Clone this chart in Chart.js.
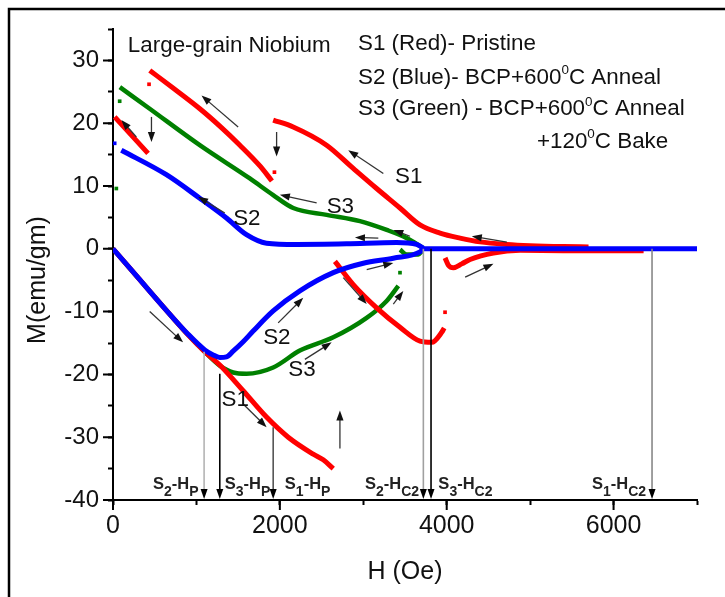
<!DOCTYPE html>
<html>
<head>
<meta charset="utf-8">
<script src="https://cdn.jsdelivr.net/npm/chart.js@4.4.1/dist/chart.umd.min.js"></script>
<style>
  body { margin: 0; background: #fff; }
  canvas { display: block; }
</style>
</head>
<body>
<canvas id="mh" width="725" height="597"></canvas>
<script>
// M(H) loops of large-grain niobium, field in Oe, moment in emu/gm

// S1 (red) - pristine
const s1VirginH = [0, 300, 600, 900, 1100, 1280, 1560, 1840, 2100, 2400, 2520, 2640];
const s1VirginM = [0, -4.6, -9.2, -13.7, -16.4, -18.5, -22.6, -26.8, -30.0, -32.7, -33.6, -35.0];
const s1DropH = [2660, 2880, 3160, 3440, 3680, 3820, 3940, 3970];
const s1DropM = [-2.0, -5.7, -9.4, -12.5, -14.7, -14.9, -13.3, -12.6];
const s1TailH = [3980, 4020, 4080, 4180, 4280, 4560, 4880, 5400, 6360];
const s1TailM = [-1.45, -2.6, -3.0, -2.4, -1.7, -0.66, -0.25, -0.3, -0.3];
const s1DownH = [1920, 2160, 2560, 2880, 3160, 3440, 3680, 3920, 4160, 4400, 4720, 5000, 5400, 5700];
const s1DownM = [20.5, 19.4, 16.5, 12.8, 9.6, 6.5, 3.8, 2.5, 1.7, 1.1, 0.7, 0.5, 0.35, 0.3];
const s1MidH = [441, 700, 1041, 1300, 1521, 1761, 1905];
const s1MidM = [28.4, 25.8, 22.3, 19.3, 16.5, 13.2, 10.8];
const s1LowH = [20, 220, 420];
const s1LowM = [21.0, 18.1, 15.2];
const s1DotH = [432, 1935, 3980];
const s1DotM = [26.2, 12.2, -10.1];

// S2 (blue) - BCP + 600C anneal
const s2VirginH = [0, 300, 600, 900, 1100, 1200, 1280, 1360, 1440, 1560, 1680, 1920, 2240, 2640, 3000, 3360, 3680, 3720, 4000, 5000, 6000, 7000];
const s2VirginM = [0, -4.6, -9.2, -13.6, -16.1, -16.9, -17.3, -17.2, -16.3, -14.8, -13.1, -9.9, -6.7, -3.8, -2.3, -1.5, -0.5, 0, 0, 0, 0, 0];
const s2DownH = [100, 640, 1040, 1360, 1600, 1840, 2200, 2800, 3400, 3640, 3720];
const s2DownM = [15.7, 11.8, 8.05, 4.9, 2.25, 0.9, 0.7, 0.8, 1.0, 0.7, 0.1];
const s2DotH = [20];
const s2DotM = [16.8];

// S3 (green) - BCP + 600C anneal + 120C bake
const s3VirginH = [0, 300, 600, 900, 1100, 1280, 1440, 1600, 1920, 2240, 2640, 3040, 3280, 3420];
const s3VirginM = [0, -4.6, -9.2, -13.7, -16.4, -18.6, -19.7, -19.9, -18.9, -16.2, -14.1, -11.0, -8.3, -5.9];
const s3HookH = [3440, 3520, 3660, 3700];
const s3HookM = [-0.13, -0.9, -0.9, -0.4];
const s3DownH = [82, 440, 1040, 1640, 1916, 2160, 2561, 2960, 3281, 3521, 3720];
const s3DownM = [25.75, 22.3, 16.5, 11.2, 8.6, 6.5, 5.4, 4.4, 3.0, 1.7, 0.1];
const s3DotH = [80, 40, 3440];
const s3DotM = [23.5, 9.6, -3.8];

// sweep-direction arrows: [H tail, M tail, H head, M head]
const sweepArrows = [
  [3240, 12.0, 2820, 15.7], [1500, 19.4, 1061, 24.4], [461, 21.0, 461, 17.0],
  [1961, 18.6, 1961, 14.7], [280, 17.8, 100, 20.5], [2441, 7.3, 2000, 8.6],
  [1340, 5.7, 1020, 8.3], [3560, 2.0, 3360, 3.0], [3180, 1.7, 2900, 1.8],
  [4721, 1.08, 4301, 2.0], [3041, -3.3, 3360, -2.25], [4221, -4.5, 4560, -2.4],
  [440, -10.0, 840, -14.9], [1980, -11.8, 2280, -7.8], [2300, -17.6, 2621, -14.9],
  [1560, -24.7, 1841, -28.4], [2720, -31.8, 2720, -25.75], [2760, -4.6, 3041, -8.8],
  [3360, -8.8, 3480, -6.7]
];

// penetration and upper critical fields
const fieldNames = ['S_{2}-H_{P}', 'S_{3}-H_{P}', 'S_{1}-H_{P}', 'S_{2}-H_{C2}', 'S_{3}-H_{C2}', 'S_{1}-H_{C2}'];
const fieldH = [1092, 1280, 1920, 3720, 3812, 6461];
const fieldStartM = [-16.4, -19.9, -28.4, 0, 0, 0];
const fieldLabelH = [480, 1340, 2060, 3020, 3900, 5741];

const FONT = "'Liberation Sans', Arial, Helvetica, sans-serif";
const RED = '#ff0000', BLUE = '#0000ff', GREEN = '#008000';

function pts(h, m) {
  return h.map((v, i) => ({ x: v, y: m[i] }));
}

function curve(h, m, color, width) {
  return {
    data: pts(h, m), showLine: true, borderColor: color, borderWidth: width,
    pointRadius: 0, cubicInterpolationMode: 'monotone', fill: false
  };
}

function dots(h, m, color) {
  return {
    data: pts(h, m), showLine: false, pointStyle: 'rect', pointRadius: 2.6,
    backgroundColor: color, borderWidth: 0
  };
}

// text with _{sub} and ^{sup} runs
function richText(ctx, str, x, y, size, bold) {
  const parts = str.split(/(_\{[^}]*\}|\^\{[^}]*\})/).filter(s => s);
  let cx = x;
  for (const p of parts) {
    let txt = p, fs = size, dy = 0;
    if (p[0] === '_') { txt = p.slice(2, -1); fs = size * 0.85; dy = size * 0.4; }
    else if (p[0] === '^') { txt = p.slice(2, -1); fs = size * 0.6; dy = -size * 0.42; }
    ctx.font = (bold ? 'bold ' : '') + fs + 'px ' + FONT;
    ctx.fillText(txt, cx, y + dy);
    cx += ctx.measureText(txt).width;
  }
}

function arrow(ctx, x1, y1, x2, y2, len, half) {
  const a = Math.atan2(y2 - y1, x2 - x1);
  const c = Math.cos(a), s = Math.sin(a);
  ctx.beginPath();
  ctx.moveTo(x1, y1);
  ctx.lineTo(x2 - c * len * 0.7, y2 - s * len * 0.7);
  ctx.stroke();
  ctx.beginPath();
  ctx.moveTo(x2, y2);
  ctx.lineTo(x2 - len * c + half * s, y2 - len * s - half * c);
  ctx.lineTo(x2 - len * c - half * s, y2 - len * s + half * c);
  ctx.closePath();
  ctx.fill();
}

const decor = {
  id: 'decor',
  beforeDraw(chart) {
    const ctx = chart.ctx;
    ctx.save();
    ctx.fillStyle = '#fff';
    ctx.fillRect(0, 0, chart.width, chart.height);
    ctx.strokeStyle = '#000';
    ctx.lineWidth = 2.5;
    ctx.beginPath();
    ctx.moveTo(9, chart.height);
    ctx.lineTo(9, 9);
    ctx.lineTo(chart.width, 9);
    ctx.stroke();
    ctx.restore();
  },
  afterDraw(chart) {
    const { ctx, chartArea: area, scales: { x, y } } = chart;
    const px = v => x.getPixelForValue(v);
    const py = v => y.getPixelForValue(v);
    ctx.save();

    // longer major ticks
    ctx.strokeStyle = '#000';
    ctx.lineWidth = 2;
    ctx.beginPath();
    for (let v = 0; v <= 7000; v += 2000) {
      ctx.moveTo(px(v), area.bottom);
      ctx.lineTo(px(v), area.bottom + 10);
    }
    for (let v = -40; v <= 30; v += 10) {
      ctx.moveTo(area.left, py(v));
      ctx.lineTo(area.left - 10, py(v));
    }
    ctx.stroke();

    // field markers down to the H axis
    const markColors = ['#b4b4b4', '#000', '#555', '#a0a0a0', '#000', '#888'];
    fieldH.forEach((h, i) => {
      ctx.strokeStyle = markColors[i];
      ctx.lineWidth = 1.6;
      ctx.beginPath();
      ctx.moveTo(px(h), py(fieldStartM[i]));
      ctx.lineTo(px(h), area.bottom - 8);
      ctx.stroke();
      ctx.fillStyle = '#000';
      ctx.beginPath();
      ctx.moveTo(px(h) - 3.5, area.bottom - 11);
      ctx.lineTo(px(h) + 3.5, area.bottom - 11);
      ctx.lineTo(px(h), area.bottom - 1);
      ctx.closePath();
      ctx.fill();
      ctx.fillStyle = '#222';
      ctx.textBaseline = 'alphabetic';
      richText(ctx, fieldNames[i], px(fieldLabelH[i]), py(-38.3), 16.5, true);
    });

    // sweep arrows
    ctx.strokeStyle = '#333';
    ctx.fillStyle = '#111';
    ctx.lineWidth = 1.3;
    sweepArrows.forEach(a => arrow(ctx, px(a[0]), py(a[1]), px(a[2]), py(a[3]), 10, 3.6));

    // curve labels and notes
    ctx.fillStyle = '#111';
    const notes = [
      ['Large-grain Niobium', 178, 31.4],
      ['S1 (Red)- Pristine', 2936, 31.6],
      ['S2 (Blue)- BCP+600^{0}C Anneal', 2936, 26.3],
      ['S3 (Green) - BCP+600^{0}C Anneal', 2936, 21.3],
      ['+120^{0}C Bake', 5081, 16.1],
      ['S1', 3380, 10.4], ['S3', 2561, 5.7], ['S2', 1440, 3.8],
      ['S2', 1800, -15.2], ['S3', 2100, -20.2], ['S1', 1301, -25.0]
    ];
    notes.forEach(n => richText(ctx, n[0], px(n[1]), py(n[2]), 22.4, false));

    // vertical axis title
    ctx.translate(38, 280);
    ctx.rotate(-Math.PI / 2);
    ctx.font = '25px ' + FONT;
    ctx.textAlign = 'center';
    ctx.textBaseline = 'middle';
    ctx.fillStyle = '#111';
    ctx.fillText('M(emu/gm)', 0, 0);
    ctx.restore();
  }
};

new Chart(document.getElementById('mh'), {
  type: 'scatter',
  data: {
    datasets: [
      curve(s2VirginH, s2VirginM, BLUE, 5),
      curve(s2DownH, s2DownM, BLUE, 5),
      dots(s2DotH, s2DotM, BLUE),
      curve(s1VirginH, s1VirginM, RED, 5),
      curve(s1DropH, s1DropM, RED, 5),
      curve(s1TailH, s1TailM, RED, 5),
      curve(s1DownH, s1DownM, RED, 5),
      curve(s1MidH, s1MidM, RED, 5),
      curve(s1LowH, s1LowM, RED, 5),
      dots(s1DotH, s1DotM, RED),
      curve(s3VirginH, s3VirginM, GREEN, 4.5),
      curve(s3HookH, s3HookM, GREEN, 4.5),
      curve(s3DownH, s3DownM, GREEN, 4.5),
      dots(s3DotH, s3DotM, GREEN)
    ]
  },
  options: {
    responsive: false,
    animation: false,
    devicePixelRatio: 1,
    layout: { padding: { left: 20, right: 28, top: 29, bottom: 0 } },
    plugins: { legend: { display: false }, tooltip: { enabled: false } },
    scales: {
      x: {
        type: 'linear', min: 0, max: 7000,
        afterFit: s => { s.height = 97; },
        ticks: {
          stepSize: 1000, autoSkip: false, maxRotation: 0, padding: 6, color: '#111',
          font: { family: FONT, size: 25 },
          callback: v => (v % 2000 === 0 ? v : '')
        },
        grid: { drawOnChartArea: false, tickLength: 5, tickColor: '#000', tickWidth: 2 },
        border: { color: '#000', width: 2 },
        title: { display: true, text: 'H (Oe)', color: '#111', font: { family: FONT, size: 25 }, padding: { bottom: 10 } }
      },
      y: {
        type: 'linear', min: -40, max: 35,
        afterFit: s => { s.width = 93; },
        ticks: {
          stepSize: 5, autoSkip: false, padding: 9, color: '#111',
          font: { family: FONT, size: 24 },
          callback: v => (v % 10 === 0 && v <= 30 ? v : '')
        },
        grid: { drawOnChartArea: false, tickLength: 5, tickColor: '#000', tickWidth: 2 },
        border: { color: '#000', width: 2 }
      }
    }
  },
  plugins: [decor]
});
</script>
</body>
</html>
